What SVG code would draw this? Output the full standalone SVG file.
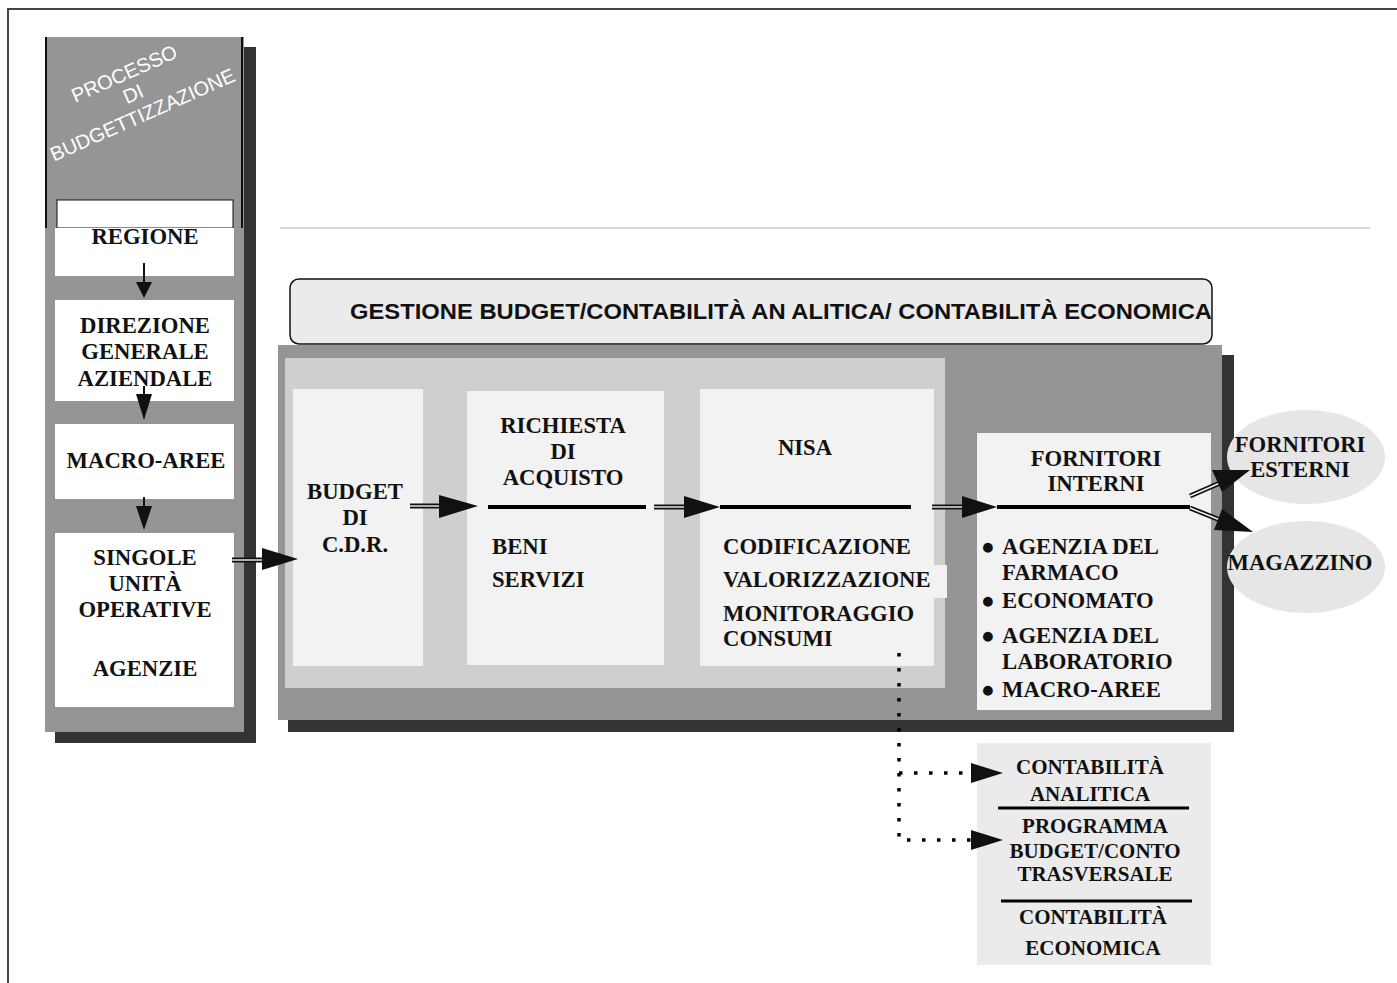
<svg xmlns="http://www.w3.org/2000/svg" width="1397" height="983" viewBox="0 0 1397 983">
  <style>
    .lbl { font-family: "Liberation Serif", "Times New Roman", serif; font-weight: bold; font-size: 22.7px; fill: #111; }
    .sm { font-size: 21px; }
    .mid { text-anchor: middle; }
    .box { fill: #f2f2f2; }
    .shadow { fill: #333333; }
    .panel { fill: #959595; }
    .rule { stroke: #000; stroke-width: 4; }
    .dbl-o { stroke: #111; stroke-width: 5; fill: none; }
    .dbl-i { stroke: #f2f2f2; stroke-width: 1.4; fill: none; }
    .head { fill: #111; }
    .dots { stroke: #000; stroke-width: 3.5; stroke-dasharray: 3.5 11.5; fill: none; }
  </style>

  <rect width="1397" height="983" fill="#fff"/>

  <!-- page frame -->
  <path d="M8,983 V9 H1397" fill="none" stroke="#444" stroke-width="2"/>
  <line x1="280" y1="228" x2="1370" y2="228" stroke="#c8c8c8" stroke-width="1.5"/>

  <!-- left column: budgeting process -->
  <g id="processo">
    <rect class="shadow" x="55" y="47" width="201" height="696"/>
    <rect class="panel" x="45" y="37" width="199" height="695"/>
    <line x1="46" y1="37" x2="46" y2="228" stroke="#111" stroke-width="2"/>
    <line x1="242" y1="37" x2="242" y2="228" stroke="#111" stroke-width="2"/>
    <rect x="57" y="200" width="176" height="28" fill="#fff" stroke="#111" stroke-width="1"/>
    <g transform="translate(127,80) rotate(-24)" font-family="Liberation Sans, Arial, sans-serif" font-size="20" fill="#fff" text-anchor="middle">
      <text x="0" y="0">PROCESSO</text>
      <text x="0" y="22">DI</text>
      <text x="0" y="45">BUDGETTIZZAZIONE</text>
    </g>
  </g>

  <g id="regione">
    <rect x="55" y="228" width="179" height="48" fill="#fff"/>
    <text class="lbl mid" x="145" y="244">REGIONE</text>
  </g>
  <g id="direzione">
    <rect x="55" y="300" width="179" height="101" fill="#fff"/>
    <text class="lbl mid" x="145" y="333">DIREZIONE</text>
    <text class="lbl mid" x="145" y="359">GENERALE</text>
    <text class="lbl mid" x="145" y="386">AZIENDALE</text>
  </g>
  <g id="macro-aree">
    <rect x="55" y="424" width="179" height="75" fill="#fff"/>
    <text class="lbl mid" x="146" y="468">MACRO-AREE</text>
  </g>
  <g id="singole-unita">
    <rect x="55" y="533" width="179" height="174" fill="#fff"/>
    <text class="lbl mid" x="145" y="565">SINGOLE</text>
    <text class="lbl mid" x="145" y="591">UNITÀ</text>
    <text class="lbl mid" x="145" y="617">OPERATIVE</text>
    <text class="lbl mid" x="145" y="676">AGENZIE</text>
  </g>

  <!-- main management panel -->
  <g id="gestione">
    <rect class="shadow" x="288" y="355" width="946" height="377"/>
    <rect class="panel" x="278" y="345" width="944" height="375"/>
    <rect x="285" y="358" width="660" height="330" fill="#cfcfcf"/>
    <rect x="290" y="279" width="922" height="65" rx="9" fill="#ebebeb" stroke="#111" stroke-width="1.5"/>
    <text x="350" y="319" font-family="Liberation Sans, Arial, sans-serif" font-weight="bold" font-size="22" fill="#111" textLength="862" lengthAdjust="spacingAndGlyphs">GESTIONE BUDGET/CONTABILITÀ AN ALITICA/ CONTABILITÀ ECONOMICA</text>
  </g>

  <g id="budget-cdr">
    <rect class="box" x="293" y="389" width="130" height="277"/>
    <text class="lbl mid" x="355" y="499">BUDGET</text>
    <text class="lbl mid" x="355" y="525">DI</text>
    <text class="lbl mid" x="355" y="552">C.D.R.</text>
  </g>

  <g id="richiesta">
    <rect class="box" x="467" y="391" width="197" height="274"/>
    <text class="lbl mid" x="563" y="433">RICHIESTA</text>
    <text class="lbl mid" x="563" y="459">DI</text>
    <text class="lbl mid" x="563" y="485">ACQUISTO</text>
    <line class="rule" x1="488" y1="507" x2="646" y2="507"/>
    <text class="lbl" x="492" y="554">BENI</text>
    <text class="lbl" x="492" y="587">SERVIZI</text>
  </g>

  <g id="nisa">
    <rect class="box" x="700" y="389" width="234" height="277"/>
    <rect class="box" x="900" y="565" width="47" height="33"/>
    <text class="lbl mid" x="805" y="455">NISA</text>
    <line class="rule" x1="720" y1="507" x2="911" y2="507"/>
    <text class="lbl" x="723" y="554">CODIFICAZIONE</text>
    <text class="lbl" x="723" y="587">VALORIZZAZIONE</text>
    <text class="lbl" x="723" y="621">MONITORAGGIO</text>
    <text class="lbl" x="723" y="646">CONSUMI</text>
  </g>

  <g id="fornitori-interni">
    <rect class="box" x="977" y="433" width="234" height="277"/>
    <text class="lbl mid" x="1096" y="466">FORNITORI</text>
    <text class="lbl mid" x="1096" y="491">INTERNI</text>
    <line class="rule" x1="997" y1="507" x2="1190" y2="507"/>
    <g class="lbl">
      <text x="981" y="554">●</text>
      <text x="1002" y="554">AGENZIA DEL</text>
      <text x="1002" y="580">FARMACO</text>
      <text x="981" y="608">●</text>
      <text x="1002" y="608">ECONOMATO</text>
      <text x="981" y="643">●</text>
      <text x="1002" y="643">AGENZIA DEL</text>
      <text x="1002" y="669">LABORATORIO</text>
      <text x="981" y="697">●</text>
      <text x="1002" y="697">MACRO-AREE</text>
    </g>
  </g>

  <g id="fornitori-esterni">
    <ellipse cx="1306" cy="457" rx="79" ry="47" fill="#e6e6e6"/>
    <text class="lbl mid" x="1300" y="452">FORNITORI</text>
    <text class="lbl mid" x="1300" y="477">ESTERNI</text>
  </g>
  <g id="magazzino">
    <ellipse cx="1306" cy="567" rx="79" ry="46" fill="#e6e6e6"/>
    <text class="lbl mid" x="1300" y="570">MAGAZZINO</text>
  </g>

  <g id="contabilita">
    <rect x="977" y="743" width="234" height="222" fill="#ebebeb"/>
    <text class="lbl sm mid" x="1090" y="774">CONTABILITÀ</text>
    <text class="lbl sm mid" x="1090" y="801">ANALITICA</text>
    <line x1="998" y1="808" x2="1189" y2="808" stroke="#000" stroke-width="3"/>
    <text class="lbl sm mid" x="1095" y="833">PROGRAMMA</text>
    <text class="lbl sm mid" x="1095" y="858">BUDGET/CONTO</text>
    <text class="lbl sm mid" x="1095" y="881">TRASVERSALE</text>
    <line x1="1001" y1="901" x2="1192" y2="901" stroke="#000" stroke-width="3"/>
    <text class="lbl sm mid" x="1093" y="924">CONTABILITÀ</text>
    <text class="lbl sm mid" x="1093" y="955">ECONOMICA</text>
  </g>

  <!-- connectors -->
  <g id="connectors">
    <!-- vertical arrows in the left column -->
    <line x1="144" y1="263" x2="144" y2="284" stroke="#111" stroke-width="2"/>
    <polygon class="head" points="136,282 152,282 144,298"/>
    <line x1="144" y1="386" x2="144" y2="396" stroke="#111" stroke-width="2"/>
    <polygon class="head" points="136,394 152,394 144,420"/>
    <line x1="144" y1="497" x2="144" y2="508" stroke="#111" stroke-width="2"/>
    <polygon class="head" points="136,506 152,506 144,530"/>

    <!-- double-line arrows -->
    <line class="dbl-o" x1="232" y1="560" x2="264" y2="560"/>
    <line class="dbl-i" x1="232" y1="560" x2="264" y2="560"/>
    <polygon class="head" points="262,548 298,559 262,570"/>

    <line class="dbl-o" x1="410" y1="506" x2="441" y2="506"/>
    <line class="dbl-i" x1="410" y1="506" x2="441" y2="506"/>
    <polygon class="head" points="439,495 478,506 439,518"/>

    <line class="dbl-o" x1="654" y1="507" x2="686" y2="507"/>
    <line class="dbl-i" x1="654" y1="507" x2="686" y2="507"/>
    <polygon class="head" points="684,496 720,507 684,518"/>

    <line class="dbl-o" x1="932" y1="507" x2="964" y2="507"/>
    <line class="dbl-i" x1="932" y1="507" x2="964" y2="507"/>
    <polygon class="head" points="962,496 997,507 962,518"/>

    <line class="dbl-o" x1="1190" y1="496" x2="1220" y2="483"/>
    <line class="dbl-i" x1="1190" y1="496" x2="1220" y2="483"/>
    <polygon class="head" points="1212,470 1250,470 1222,492"/>

    <line class="dbl-o" x1="1190" y1="508" x2="1220" y2="520"/>
    <line class="dbl-i" x1="1190" y1="508" x2="1220" y2="520"/>
    <polygon class="head" points="1222,509 1253,532 1214,530"/>

    <!-- dotted links to accounting -->
    <path class="dots" d="M899,653 V840 H972"/>
    <path class="dots" d="M899,773 H972"/>
    <polygon class="head" points="971,763 1003,773 971,783"/>
    <polygon class="head" points="971,830 1003,840 971,850"/>
  </g>
</svg>
